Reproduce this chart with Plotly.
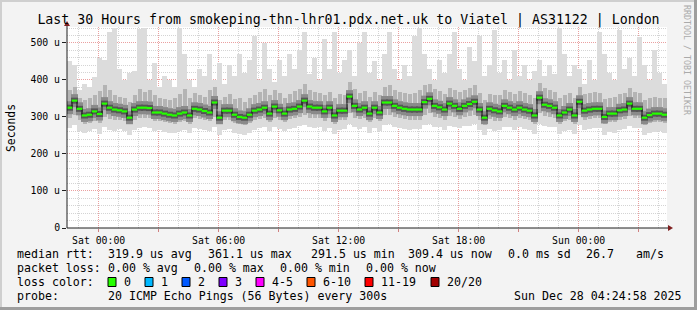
import plotly.graph_objects as go
from datetime import datetime, timedelta

# ---------------- data ----------------
start = datetime(2025, 12, 26, 22, 25)
end = datetime(2025, 12, 28, 4, 25)
step_minutes = 15

median = [325, 344, 322, 304, 306, 315, 308, 336, 325, 320,
          318, 315, 298, 320, 325, 325, 324, 312, 312, 309,
          306, 304, 309, 312, 304, 322, 320, 316, 312, 339,
          298, 317, 317, 306, 300, 298, 306, 317, 320, 325,
          309, 328, 318, 309, 320, 322, 328, 344, 328, 325,
          325, 315, 325, 304, 317, 317, 355, 330, 320, 325,
          309, 325, 312, 339, 339, 330, 325, 322, 320, 320,
          320, 340, 349, 330, 326, 320, 336, 330, 322, 330,
          335, 341, 320, 298, 322, 318, 315, 330, 325, 320,
          325, 320, 317, 304, 352, 333, 330, 325, 304, 312,
          320, 304, 341, 317, 320, 322, 322, 300, 309, 309,
          318, 320, 336, 322, 322, 298, 305, 309, 309, 306]

smoke_top = [450, 440, 372, 390, 380, 408, 460, 455, 530, 540,
             430, 400, 420, 425, 538, 540, 400, 445, 380, 410,
             400, 380, 540, 470, 400, 380, 430, 410, 470, 400,
             445, 390, 440, 410, 470, 420, 455, 520, 400, 500,
             430, 395, 455, 410, 470, 430, 480, 530, 415, 460,
             400, 510, 430, 530, 420, 455, 480, 410, 500, 530,
             420, 450, 400, 470, 530, 430, 400, 440, 410, 520,
             540, 470, 430, 400, 455, 420, 470, 530, 430, 400,
             490, 450, 520, 410, 440, 535, 420, 455, 400, 480,
             410, 440, 400, 425, 455, 410, 440, 415, 540, 470,
             410, 440, 430, 390, 455, 400, 530, 470, 420, 400,
             535, 430, 460, 410, 515, 440, 400, 480, 420, 390]

smoke_up = [372, 380, 350, 345, 352, 358, 370, 385, 372, 360,
            355, 352, 340, 358, 375, 368, 372, 360, 350, 348,
            345, 350, 362, 375, 352, 365, 360, 355, 372, 380,
            345, 355, 362, 348, 350, 340, 352, 360, 368, 375,
            358, 372, 365, 350, 362, 370, 375, 390, 372, 368,
            365, 358, 368, 350, 362, 360, 395, 375, 365, 370,
            355, 368, 360, 380, 385, 372, 368, 365, 362, 366,
            372, 385, 390, 375, 370, 362, 378, 372, 368, 372,
            378, 385, 365, 345, 362, 360, 358, 372, 368, 362,
            370, 365, 360, 350, 392, 378, 372, 368, 352, 360,
            365, 350, 382, 362, 365, 368, 366, 348, 352, 355,
            362, 365, 378, 368, 366, 345, 350, 355, 352, 350]

smoke_lo = [298, 305, 292, 282, 285, 290, 285, 300, 295, 292,
            292, 288, 280, 292, 296, 298, 296, 288, 288, 286,
            284, 282, 286, 288, 282, 296, 294, 292, 288, 300,
            280, 292, 292, 284, 280, 278, 284, 292, 294, 298,
            286, 298, 292, 286, 294, 296, 300, 305, 298, 296,
            296, 290, 296, 282, 292, 292, 310, 298, 294, 298,
            286, 296, 288, 305, 305, 300, 296, 295, 293, 293,
            293, 305, 310, 300, 298, 293, 302, 300, 295, 300,
            302, 305, 292, 278, 294, 290, 290, 300, 298, 293,
            298, 294, 292, 282, 310, 302, 300, 298, 282, 288,
            292, 282, 305, 292, 294, 296, 296, 280, 286, 286,
            292, 294, 302, 296, 296, 278, 284, 286, 286, 284]

smoke_bot = [270, 278, 262, 258, 262, 268, 255, 272, 265, 262,
             268, 262, 252, 265, 270, 272, 270, 262, 264, 260,
             258, 256, 262, 265, 256, 270, 268, 266, 262, 272,
             250, 266, 268, 258, 255, 250, 258, 266, 270, 272,
             262, 272, 268, 262, 268, 270, 275, 278, 272, 270,
             272, 262, 270, 255, 266, 268, 280, 272, 268, 272,
             258, 270, 262, 278, 280, 274, 270, 268, 266, 268,
             268, 278, 282, 274, 272, 266, 275, 274, 270, 276,
             276, 280, 266, 250, 268, 262, 264, 274, 272, 266,
             272, 268, 266, 255, 282, 276, 274, 272, 254, 262,
             266, 255, 278, 266, 268, 270, 270, 252, 260, 258,
             266, 268, 276, 270, 270, 250, 258, 260, 262, 258]

y_tick_vals = [0, 100, 200, 300, 400, 500]
y_tick_text = ["0", "100 u", "200 u", "300 u", "400 u", "500 u"]
x_tick_vals = [datetime(2025, 12, 27, 0, 0) + timedelta(hours=3 * k) for k in range(10)]
x_tick_text = ["Sat 00:00", "", "Sat 06:00", "", "Sat 12:00", "", "Sat 18:00", "", "Sun 00:00", ""]

title_text = "Last 30 Hours from smokeping-thn-lhr01.pdx.net.uk to Viatel | AS31122 | London"
row_rtt = [(16, "median rtt:"), (107, "319.9 us avg"), (207, "361.1 us max"), (310, "291.5 us min"),
           (407, "309.4 us now"), (507, "0.0 ms sd"), (585, "26.7"), (635, "am/s")]
row_loss = [(16, "packet loss:"), (107, "0.00 % avg"), (193, "0.00 % max"), (279, "0.00 % min"),
            (365, "0.00 % now")]
loss_labels = ["0", "1", "2", "3", "4-5", "6-10", "11-19", "20/20"]
loss_colors = ["#26ff00", "#00b8ff", "#0059ff", "#7e00ff", "#ff00ff", "#ff5500", "#ff0000", "#a10000"]
loss_box_x = [108, 145, 182, 219, 256, 307, 365, 431]
loss_text_x = [123, 160, 197, 234, 271, 322, 380, 446]
row_probe = [(16, "probe:"), (107, "20 ICMP Echo Pings (56 Bytes) every 300s"), (513, "Sun Dec 28 04:24:58 2025")]

# ---------------- geometry ----------------
FW, FH = 697, 310
L, R, T, B = 67, 667, 27, 228
MONO = "DejaVu Sans Mono"


def px(xp):
    return (xp - L) / (R - L)


def py(yp):
    return (B - yp) / (B - T)


n = len(median)
xs = [start + timedelta(minutes=step_minutes * (i + 0.5)) for i in range(n)]
bw = step_minutes * 60 * 1000

fig = go.Figure()
fig.add_trace(go.Bar(x=xs, y=[t - b for t, b in zip(smoke_top, smoke_bot)], base=smoke_bot,
                     width=bw, marker=dict(color="#dcdcdc", line=dict(width=0)), hoverinfo="skip"))
fig.add_trace(go.Bar(x=xs, y=[u - l for u, l in zip(smoke_up, smoke_lo)], base=smoke_lo,
                     width=bw * 0.8, marker=dict(color="#b4b4b4", line=dict(width=0)), hoverinfo="skip"))
# dense core of the smoke around the median (drawn as blocks, one per step)
fig.add_trace(go.Scatter(x=xs, y=median, mode="markers",
                         marker=dict(symbol="line-ew", size=5, line=dict(width=13, color="#8a8a8a")),
                         hoverinfo="skip"))
fig.add_trace(go.Scatter(x=xs, y=median, mode="markers",
                         marker=dict(symbol="line-ew", size=5, line=dict(width=6, color="#555555")),
                         hoverinfo="skip"))
fig.add_trace(go.Scatter(x=xs, y=median, mode="lines+markers", line=dict(color="#111111", width=1, shape="hvh"),
                         marker=dict(symbol="line-ew", size=4, line=dict(width=2.2, color="#26ff00")),
                         hoverinfo="skip"))

shapes = []
# frame shading
shapes.append(dict(type="rect", xref="paper", yref="paper", x0=px(0), x1=px(FW), y0=py(0), y1=py(2),
                   fillcolor="#cfcfcf", line=dict(width=0), layer="above"))
shapes.append(dict(type="rect", xref="paper", yref="paper", x0=px(0), x1=px(2), y0=py(0), y1=py(FH),
                   fillcolor="#cfcfcf", line=dict(width=0), layer="above"))
shapes.append(dict(type="rect", xref="paper", yref="paper", x0=px(0), x1=px(FW), y0=py(FH - 3), y1=py(FH),
                   fillcolor="#9e9e9e", line=dict(width=0), layer="above"))
shapes.append(dict(type="rect", xref="paper", yref="paper", x0=px(FW - 3), x1=px(FW), y0=py(0), y1=py(FH),
                   fillcolor="#9e9e9e", line=dict(width=0), layer="above"))
# axes
shapes.append(dict(type="line", xref="paper", yref="paper", x0=px(L), x1=px(669), y0=py(B), y1=py(B),
                   line=dict(color="#1f1f1f", width=1), layer="above"))
shapes.append(dict(type="line", xref="paper", yref="paper", x0=px(L), x1=px(L), y0=py(B), y1=py(24),
                   line=dict(color="#1f1f1f", width=1), layer="above"))
# arrows
shapes.append(dict(type="path", xref="paper", yref="paper",
                   path=f"M {px(668)} {py(B-3)} L {px(673)} {py(B)} L {px(668)} {py(B+3)} Z",
                   fillcolor="#7f1f1f", line=dict(width=0), layer="above"))
shapes.append(dict(type="path", xref="paper", yref="paper",
                   path=f"M {px(L-3)} {py(26)} L {px(L)} {py(21)} L {px(L+3)} {py(26)} Z",
                   fillcolor="#7f1f1f", line=dict(width=0), layer="above"))
# loss colour boxes
for bx, col in zip(loss_box_x, loss_colors):
    shapes.append(dict(type="rect", xref="paper", yref="paper", x0=px(bx), x1=px(bx + 8),
                       y0=py(286.5), y1=py(277.5), fillcolor=col, line=dict(color="#000000", width=1),
                       layer="above"))

ann = []


def txt(x, y, s, size=11.6, color="#000000", **kw):
    ann.append(dict(x=px(x - 1), y=py(y), xref="paper", yref="paper", text=s, showarrow=False,
                    xanchor=kw.pop("xanchor", "left"), yanchor="middle",
                    font=dict(family=MONO, size=size, color=color), **kw))


for x0, s in row_rtt:
    txt(x0, 254, s)
for x0, s in row_loss:
    txt(x0, 268, s)
txt(16, 282, "loss color:")
for tx, s in zip(loss_text_x, loss_labels):
    txt(tx, 282, s)
for x0, s in row_probe:
    txt(x0, 296, s)

ann.append(dict(x=px(11), y=py(128), xref="paper", yref="paper", text="Seconds", showarrow=False,
                textangle=-90, xanchor="center", yanchor="middle",
                font=dict(family=MONO, size=11.4, color="#000000")))
ann.append(dict(x=px(687), y=py(60), xref="paper", yref="paper", text="RRDTOOL / TOBI OETIKER",
                showarrow=False, textangle=90, xanchor="center", yanchor="middle",
                font=dict(family=MONO, size=8.3, color="#aaaaaa")))

fig.update_layout(
    width=FW, height=FH,
    margin=dict(l=L, r=FW - R, t=T, b=FH - B, pad=0),
    paper_bgcolor="#f3f3f3", plot_bgcolor="#ffffff",
    barmode="overlay", bargap=0, showlegend=False,
    title=dict(text=title_text, x=0.5, xref="container", xanchor="center",
               y=1 - 19 / FH, yref="container", yanchor="middle",
               font=dict(family=MONO, size=13.25, color="#000000")),
    shapes=shapes, annotations=ann,
    xaxis=dict(type="date", range=[start, end], tickmode="array", tickvals=x_tick_vals, ticktext=x_tick_text,
               showgrid=True, gridcolor="#eaa0a0", griddash="1px,1px", gridwidth=1,
               minor=dict(dtick=3600000, tick0=datetime(2025, 12, 27, 0, 0), showgrid=True,
                          gridcolor="#d4d4d4", griddash="1px,1px", gridwidth=1),
               ticks="outside", ticklen=3, tickcolor="#d08080", showline=False, zeroline=False,
               tickfont=dict(family=MONO, size=9.8, color="#000000"), fixedrange=True),
    yaxis=dict(range=[0, 543], tickmode="array", tickvals=y_tick_vals, ticktext=y_tick_text,
               showgrid=True, gridcolor="#eaa0a0", griddash="1px,1px", gridwidth=1,
               minor=dict(dtick=20, tick0=0, showgrid=True, gridcolor="#d4d4d4", griddash="1px,1px",
                          gridwidth=1),
               ticks="outside", ticklen=4, tickcolor="#1f1f1f", showline=False, zeroline=False,
               tickfont=dict(family=MONO, size=9.8, color="#000000"), fixedrange=True),
)

fig.write_html("out.html")
